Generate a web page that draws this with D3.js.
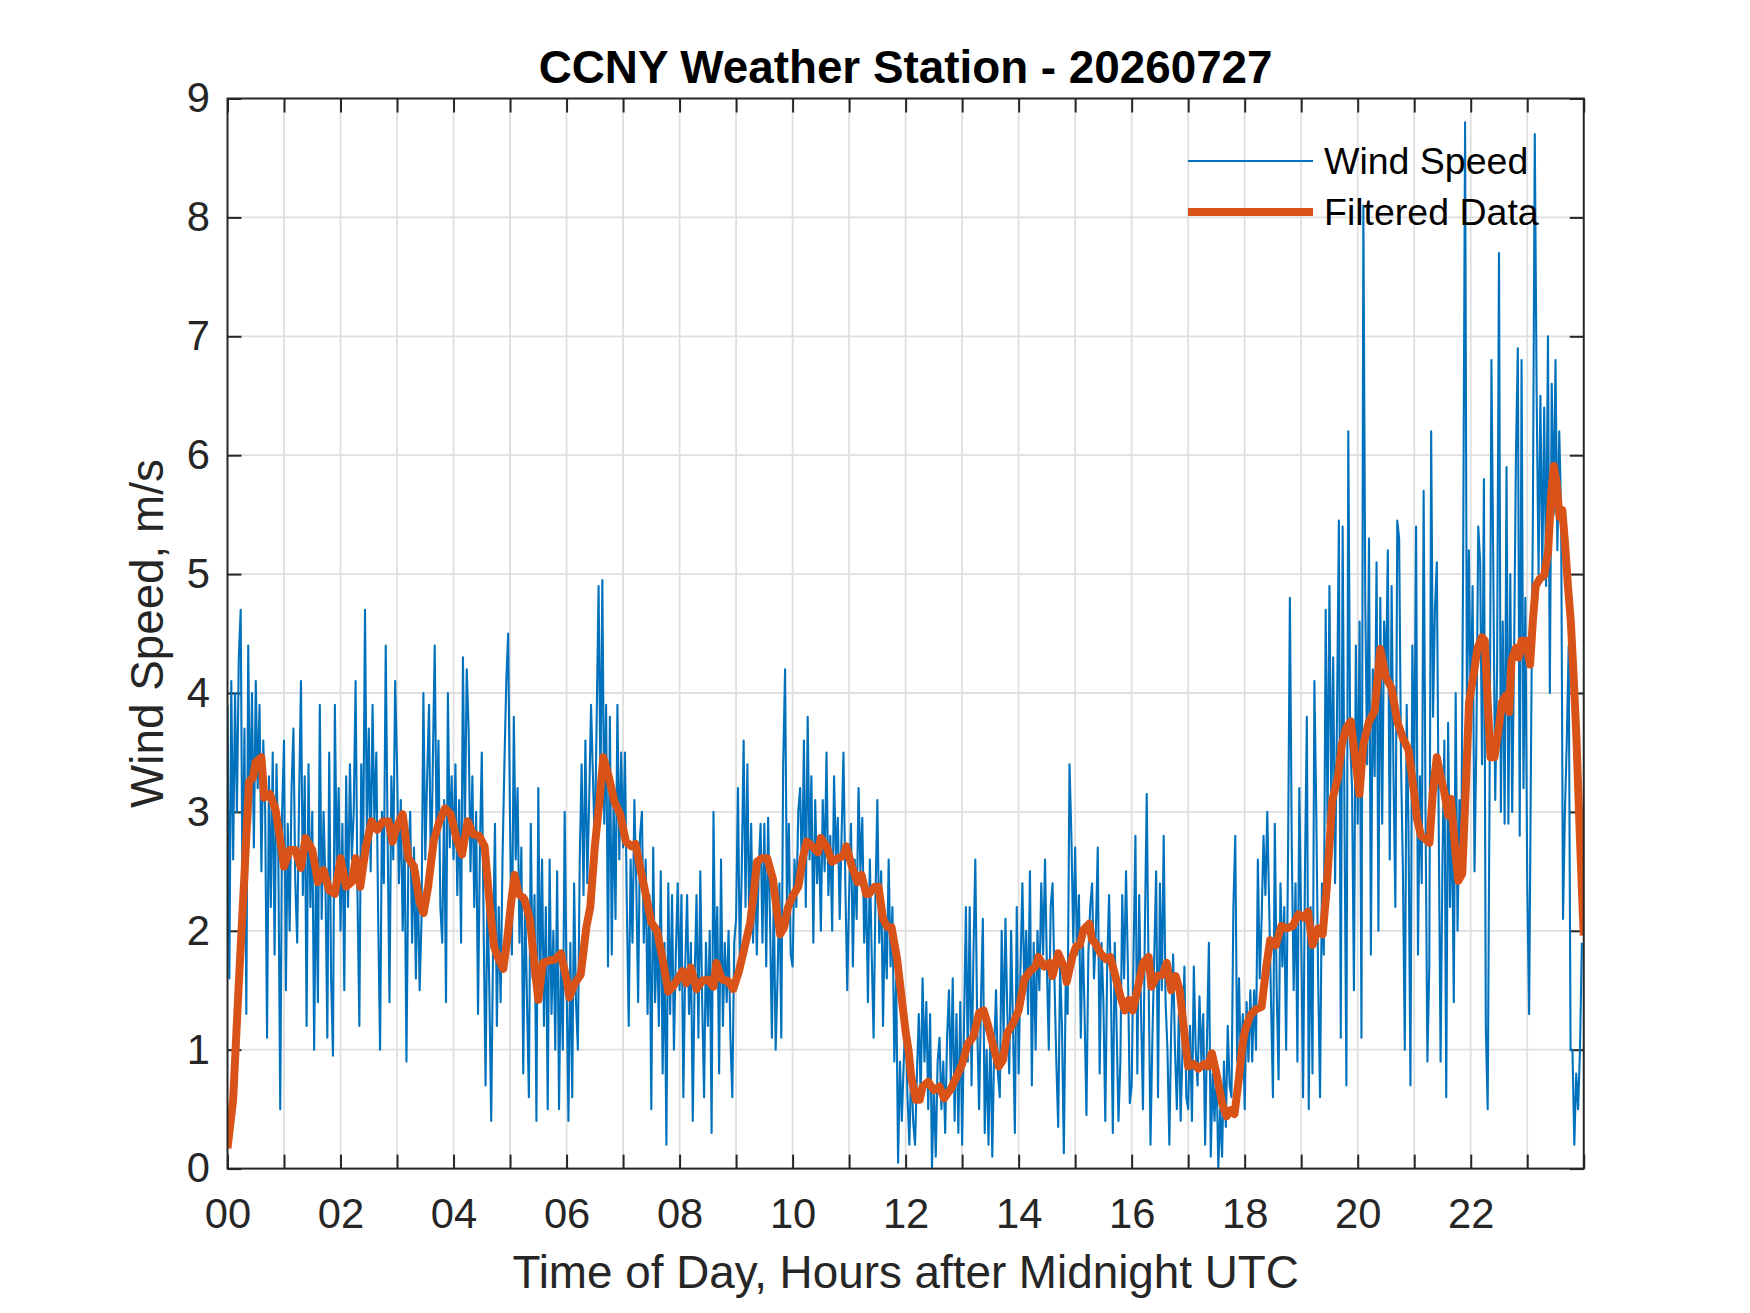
<!DOCTYPE html>
<html lang="en">
<head>
  <meta charset="UTF-8">
  <title>CCNY Weather Station - 20260727</title>
  <style>
body {
  margin: 0;
  background: #ffffff;
}
svg {
  display: block;
  font-family: "Liberation Sans", Arial, Helvetica, sans-serif;
}
  </style>
</head>
<body>
  <div id="chart"></div>
  <script src="https://d3js.org/d3.v7.min.js"></script>
  <script>
// raw wind speed, m/s, one reading every 2 minutes (30 per row = 1 hour)
const sampleMinutes = 2;
const windSpeed = [
  3.9,1.6,4.1,2.6,4.0,3.0,4.3,4.7,2.2,3.7,1.3,4.4,2.9,4.0,2.7,4.1,3.2,3.9,2.5,3.6,3.0,1.1,3.3,2.2,3.5,1.8,3.4,2.6,0.5,3.0,
  3.6,1.5,2.9,2.0,3.2,3.7,2.4,1.9,3.1,4.1,2.3,3.3,1.2,3.4,2.2,3.0,1.0,2.6,1.4,3.9,2.1,3.0,2.4,1.1,3.5,1.6,0.95,3.9,2.5,3.2,
  2.0,2.9,1.5,3.3,2.2,3.4,2.6,3.0,4.1,2.3,1.2,3.4,2.6,4.7,2.8,3.7,2.5,3.9,2.9,3.5,2.1,1.0,3.0,2.4,4.4,2.8,1.4,3.3,2.6,4.1,
  3.4,2.4,3.1,2.0,2.8,0.9,2.6,3.0,1.9,2.7,1.6,2.5,1.5,2.1,4.0,2.6,3.3,3.9,2.4,3.4,4.4,2.8,3.6,2.2,1.9,3.1,1.4,4.0,2.7,3.3,
  2.6,3.4,2.3,3.1,1.9,4.3,2.8,4.2,3.7,2.5,3.3,2.2,3.0,1.3,2.7,3.5,2.0,0.7,2.4,1.5,0.4,1.9,2.9,1.2,2.2,1.4,2.6,3.4,4.1,4.5,
  2.9,1.8,3.8,2.6,3.2,1.9,2.7,0.8,2.3,1.4,0.6,2.9,1.6,2.3,0.4,3.2,1.5,2.6,1.2,2.2,0.5,2.6,1.3,2.0,1.0,2.5,0.5,1.8,1.0,3.0,
  1.6,0.4,1.9,0.6,2.4,1.4,1.0,2.6,3.4,2.3,3.6,2.4,3.1,3.9,3.3,2.7,3.8,4.9,3.2,4.95,2.9,3.9,1.7,3.8,1.8,3.1,2.1,3.9,2.6,3.5,
  2.7,3.5,2.2,1.2,2.6,1.9,3.1,2.4,1.4,2.8,3.0,1.9,2.6,1.3,2.3,0.5,2.7,1.4,2.0,1.2,2.5,0.8,1.9,0.2,2.4,1.3,2.3,1.0,1.8,2.4,
  1.5,2.3,0.6,1.7,2.3,1.3,1.9,0.4,1.6,2.3,1.1,2.5,1.4,0.6,1.9,1.2,2.0,0.3,3.0,1.6,2.2,0.8,2.6,1.2,1.9,1.4,2.0,1.1,0.6,1.9,
  2.1,3.2,1.7,2.5,3.6,2.2,3.4,2.0,2.9,1.9,2.6,1.8,2.5,2.9,1.9,2.9,1.7,2.95,2.1,1.1,2.3,1.0,1.6,2.4,1.1,3.4,4.2,2.2,2.9,1.8,
  1.7,2.6,2.2,3.0,3.2,2.4,3.6,2.2,3.8,2.6,3.3,1.9,3.1,2.4,2.8,2.0,3.1,2.5,3.5,2.3,2.8,2.0,3.3,2.6,2.95,2.1,2.8,3.5,2.4,1.5,
  2.3,2.9,1.7,2.6,2.1,3.2,2.5,2.95,1.9,2.4,1.4,2.6,1.8,1.1,2.3,3.1,1.9,2.5,1.2,2.1,1.6,2.6,1.7,2.2,0.9,1.6,0.05,0.9,0.4,0.9,
  1.3,0.6,0.2,0.9,0.4,0.2,0.8,1.3,0.6,1.6,0.9,1.4,0.5,1.3,0.0,0.7,0.1,0.9,1.1,0.5,0.9,0.3,1.1,1.5,0.7,1.6,0.4,1.3,0.3,1.4,
  0.2,1.2,2.2,0.9,2.2,0.7,1.8,2.6,1.2,0.5,1.4,2.1,0.3,1.0,0.2,1.2,0.1,1.0,1.5,0.8,0.6,2.0,1.1,2.1,1.3,0.8,2.0,1.2,0.3,2.2,
  0.8,1.7,2.4,1.5,2.0,1.3,2.5,0.7,1.9,1.0,2.0,1.5,2.4,1.8,2.6,1.7,1.0,2.2,2.4,1.6,0.9,0.35,1.7,1.2,0.13,1.6,1.3,3.4,2.8,1.9,
  2.7,1.8,2.3,1.1,2.0,1.3,0.45,1.8,2.2,2.4,1.6,2.0,2.7,0.8,1.9,1.4,0.4,1.7,2.3,1.5,0.3,1.9,1.2,0.4,0.9,2.3,1.6,2.5,1.7,0.55,
  0.7,1.8,2.8,0.8,2.3,1.3,0.5,2.0,3.15,1.6,0.2,1.1,1.8,2.5,0.6,2.4,1.5,2.8,1.4,1.0,0.2,1.2,1.8,1.0,0.5,1.3,0.4,1.0,1.7,0.6,
  0.5,1.2,0.4,1.7,1.0,0.7,1.45,0.9,1.3,0.2,1.1,1.9,0.1,0.8,0.4,0.9,0.0,0.5,0.1,0.9,0.35,1.2,0.7,0.6,2.2,2.8,0.9,1.6,0.8,1.3,
  0.5,1.4,0.9,1.5,0.9,1.5,1.0,2.6,1.6,2.1,2.8,2.3,3.0,2.2,1.4,0.6,2.9,1.5,0.75,2.4,1.7,2.2,1.0,2.6,4.8,2.7,1.5,2.4,0.9,3.2,
  2.0,0.6,2.5,3.8,0.5,2.2,0.8,4.1,3.0,1.6,0.6,2.4,1.8,4.7,2.9,4.9,3.0,4.3,2.4,3.8,5.45,1.1,5.4,2.9,0.7,6.2,3.6,3.2,1.5,4.4,
  2.9,4.6,1.1,8.1,4.8,3.4,5.3,1.8,4.2,3.3,5.1,2.0,4.8,2.9,4.6,4.1,5.2,2.6,4.9,3.3,2.2,5.45,5.3,3.4,2.5,1.0,3.9,2.8,0.7,4.4,
  3.2,5.4,1.8,3.3,2.4,5.7,3.0,0.9,1.7,6.2,3.8,4.7,5.1,2.9,0.9,2.6,3.6,0.6,3.75,2.2,3.1,1.4,4.0,2.0,3.1,2.65,5.2,8.8,3.75,5.2,
  3.8,4.9,2.5,3.6,5.4,5.1,3.4,5.8,1.2,0.5,3.2,6.8,5.0,3.1,4.2,7.7,3.0,4.6,2.9,5.9,2.9,5.0,3.0,4.3,6.0,6.9,2.8,6.8,3.2,4.8,
  2.4,1.3,3.5,5.5,8.7,6.5,5.0,6.5,5.0,6.4,4.9,7.0,4.0,6.6,5.5,6.8,5.2,6.2,5.5,2.1,3.0,3.6,4.4,1.0,1.0,0.2,0.8,0.5,1.0,1.9
];

// filtered data, read as (hour, m/s) pairs
const filteredHours = [
  0,0.1,0.2,0.3,0.38,0.45,0.5,0.6,0.65,0.75,0.85,0.95,1.0,1.1,1.2,1.3,1.38,1.5,1.6,1.7,1.8,1.9,
  2.0,2.1,2.2,2.27,2.35,2.45,2.55,2.65,2.75,2.85,2.92,3.0,3.1,3.2,3.3,3.4,3.47,3.55,3.65,3.75,3.85,3.95,
  4.05,4.15,4.25,4.35,4.45,4.55,4.65,4.72,4.8,4.88,4.95,5.02,5.08,5.15,5.25,5.35,5.45,5.5,5.58,5.7,5.8,5.9,
  6.0,6.05,6.15,6.25,6.35,6.42,6.5,6.58,6.65,6.75,6.85,6.95,7.05,7.15,7.22,7.3,7.4,7.5,7.6,7.7,7.8,7.88,7.95,
  8.05,8.12,8.2,8.3,8.4,8.5,8.6,8.65,8.75,8.85,8.95,9.05,9.15,9.25,9.3,9.37,9.45,9.55,9.65,9.72,9.78,9.85,9.92,
  10.0,10.1,10.18,10.25,10.35,10.45,10.5,10.6,10.7,10.8,10.9,10.95,11.05,11.15,11.22,11.3,11.35,11.45,11.52,11.6,11.68,11.75,11.85,
  12.0,12.05,12.1,12.18,12.25,12.3,12.4,12.5,12.6,12.68,12.8,12.9,13.0,13.1,13.2,13.3,13.38,13.45,13.55,13.65,13.72,13.8,13.9,
  14.0,14.1,14.2,14.3,14.35,14.45,14.55,14.6,14.7,14.8,14.85,14.95,15.02,15.08,15.15,15.25,15.3,15.35,15.45,15.55,15.62,15.7,15.8,15.88,15.95,
  16.02,16.1,16.2,16.3,16.35,16.45,16.55,16.62,16.7,16.78,16.85,16.92,17.0,17.1,17.18,17.28,17.35,17.42,17.5,17.6,17.68,17.75,17.82,17.9,17.95,
  18.0,18.1,18.2,18.3,18.38,18.45,18.55,18.65,18.75,18.85,18.95,19.05,19.12,19.2,19.3,19.38,19.45,19.55,19.65,19.72,19.8,19.88,19.95,
  20.03,20.1,20.2,20.3,20.4,20.5,20.6,20.7,20.8,20.9,21.0,21.05,21.12,21.2,21.27,21.33,21.4,21.47,21.53,21.6,21.65,21.72,21.78,21.85,21.92,21.97,
  22.05,22.12,22.2,22.25,22.3,22.35,22.42,22.5,22.55,22.62,22.68,22.72,22.8,22.85,22.9,22.97,
  23.05,23.1,23.15,23.22,23.3,23.37,23.42,23.47,23.52,23.57,23.62,23.67,23.72,23.77,23.82,23.87,23.92,23.97,24.0
];
const filteredSpeed = [
  0.17,0.58,1.56,2.47,3.25,3.29,3.42,3.46,3.12,3.15,3.02,2.71,2.54,2.68,2.68,2.53,2.78,2.68,2.41,2.51,2.34,2.31,
  2.61,2.37,2.41,2.61,2.37,2.71,2.92,2.85,2.92,2.92,2.75,2.88,2.98,2.61,2.54,2.24,2.15,2.37,2.76,2.92,3.03,2.98,
  2.78,2.64,2.92,2.81,2.80,2.71,2.17,1.86,1.76,1.68,1.93,2.24,2.47,2.31,2.27,2.10,1.63,1.42,1.73,1.75,1.76,1.81,
  1.59,1.44,1.56,1.63,2.03,2.20,2.71,3.08,3.46,3.29,3.08,2.98,2.75,2.71,2.73,2.54,2.31,2.07,2.00,1.76,1.49,1.53,1.58,
  1.66,1.56,1.69,1.51,1.58,1.59,1.53,1.73,1.59,1.58,1.51,1.66,1.86,2.07,2.27,2.58,2.61,2.61,2.44,2.17,1.97,2.03,2.20,
  2.29,2.37,2.61,2.75,2.71,2.66,2.78,2.71,2.58,2.61,2.63,2.71,2.54,2.41,2.47,2.31,2.31,2.37,2.37,2.10,2.03,2.03,1.76,
  1.15,1.00,0.77,0.58,0.58,0.69,0.73,0.66,0.69,0.59,0.67,0.77,0.88,1.05,1.11,1.31,1.33,1.22,1.03,0.86,0.91,1.14,1.22,
  1.33,1.59,1.66,1.70,1.78,1.70,1.73,1.62,1.81,1.70,1.57,1.78,1.87,1.88,2.01,2.06,1.92,1.90,1.81,1.76,1.78,1.64,1.45,1.33,1.42,
  1.33,1.50,1.73,1.78,1.53,1.62,1.63,1.73,1.50,1.62,1.50,1.19,0.86,0.88,0.84,0.88,0.86,0.97,0.80,0.55,0.44,0.49,0.46,0.77,1.00,
  1.15,1.29,1.34,1.36,1.69,1.92,1.88,2.04,2.02,2.04,2.14,2.11,2.16,1.88,2.02,1.97,2.35,3.10,3.29,3.57,3.71,3.76,3.47,
  3.15,3.57,3.76,3.85,4.37,4.13,4.04,3.76,3.62,3.52,3.15,2.94,2.80,2.77,2.74,3.17,3.46,3.29,3.17,2.97,3.11,2.71,2.42,2.48,3.29,3.92,
  4.15,4.38,4.47,4.44,3.92,3.46,3.46,3.72,3.92,3.98,3.84,4.27,4.38,4.30,4.44,4.44,
  4.24,4.61,4.90,4.96,4.99,5.19,5.65,5.91,5.77,5.48,5.54,5.25,4.90,4.61,4.15,3.63,2.94,2.31,1.96
];

const xTickHours = d3.range(0, 25);
const xLabelHours = [0, 2, 4, 6, 8, 10, 12, 14, 16, 18, 20, 22];
const yTicks = [0, 1, 2, 3, 4, 5, 6, 7, 8, 9];
const seriesNames = ["Wind Speed", "Filtered Data"];

const titleText = "CCNY Weather Station - 20260727";
const xLabelText = "Time of Day, Hours after Midnight UTC";
const yLabelText = "Wind Speed, m/s";

const width = 1750;
const height = 1313;
const margin = { left: 227.5, right: 166.25, top: 98.5, bottom: 144.4 };

const blue = "#0072bd";
const orange = "#d95319";
const axisColor = "#262626";
const gridColor = "#dfdfdf";

const x = d3.scaleLinear()
  .domain([0, 24])
  .range([margin.left, width - margin.right]);

const y = d3.scaleLinear()
  .domain([0, 9])
  .range([height - margin.bottom, margin.top]);

const svg = d3.select("#chart").append("svg")
  .attr("width", width)
  .attr("height", height);

svg.append("rect")
  .attr("width", width)
  .attr("height", height)
  .attr("fill", "#ffffff");

svg.append("defs").append("clipPath")
  .attr("id", "plotClip")
  .append("rect")
  .attr("x", x(0))
  .attr("y", y(9))
  .attr("width", x(24) - x(0))
  .attr("height", y(0) - y(9));

// grid lines
const grid = svg.append("g");
grid.selectAll(".vgrid")
  .data(xTickHours.filter(h => h > 0 && h < 24))
  .join("line")
  .attr("x1", d => x(d)).attr("x2", d => x(d))
  .attr("y1", y(0)).attr("y2", y(9))
  .attr("stroke", gridColor)
  .attr("stroke-width", 1.8);
grid.selectAll(".hgrid")
  .data(yTicks.filter(v => v > 0 && v < 9))
  .join("line")
  .attr("x1", x(0)).attr("x2", x(24))
  .attr("y1", d => y(d)).attr("y2", d => y(d))
  .attr("stroke", gridColor)
  .attr("stroke-width", 1.8);

// axes with inward ticks on all four sides
const tickLen = 14;
function styleAxis(g) {
  g.attr("font-size", null).attr("font-family", null).attr("color", axisColor);
  g.select(".domain").remove();
  g.selectAll(".tick line").attr("stroke-width", 2);
  g.selectAll(".tick text")
    .attr("font-size", 41.7)
    .attr("fill", axisColor);
}

svg.append("g")
  .attr("transform", `translate(0,${y(0)})`)
  .call(d3.axisBottom(x)
    .tickValues(xTickHours)
    .tickSizeInner(-tickLen)
    .tickSizeOuter(0)
    .tickPadding(30)
    .tickFormat(d => xLabelHours.includes(d) ? String(d).padStart(2, "0") : ""))
  .call(styleAxis);

svg.append("g")
  .attr("transform", `translate(0,${y(9)})`)
  .call(d3.axisTop(x)
    .tickValues(xTickHours)
    .tickSizeInner(-tickLen)
    .tickSizeOuter(0)
    .tickFormat(""))
  .call(styleAxis);

svg.append("g")
  .attr("transform", `translate(${x(0)},0)`)
  .call(d3.axisLeft(y)
    .tickValues(yTicks)
    .tickSizeInner(-tickLen)
    .tickSizeOuter(0)
    .tickPadding(17.5)
    .tickFormat(d3.format("d")))
  .call(styleAxis);

svg.append("g")
  .attr("transform", `translate(${x(24)},0)`)
  .call(d3.axisRight(y)
    .tickValues(yTicks)
    .tickSizeInner(-tickLen)
    .tickSizeOuter(0)
    .tickFormat(""))
  .call(styleAxis);

// data lines
const plot = svg.append("g").attr("clip-path", "url(#plotClip)");

const rawLine = d3.line()
  .x((d, i) => x(i * sampleMinutes / 60))
  .y(d => y(d));

plot.append("path")
  .datum(windSpeed)
  .attr("fill", "none")
  .attr("stroke", blue)
  .attr("stroke-width", 2.1)
  .attr("stroke-linejoin", "round")
  .attr("d", rawLine);

const filtLine = d3.line()
  .x((d, i) => x(filteredHours[i]))
  .y(d => y(d));

plot.append("path")
  .datum(filteredSpeed)
  .attr("fill", "none")
  .attr("stroke", orange)
  .attr("stroke-width", 8)
  .attr("stroke-linejoin", "round")
  .attr("d", filtLine);

// axes box
svg.append("rect")
  .attr("x", x(0))
  .attr("y", y(9))
  .attr("width", x(24) - x(0))
  .attr("height", y(0) - y(9))
  .attr("fill", "none")
  .attr("stroke", axisColor)
  .attr("stroke-width", 2);

// title and labels
svg.append("text")
  .attr("x", (x(0) + x(24)) / 2)
  .attr("y", 83)
  .attr("text-anchor", "middle")
  .attr("font-size", 45.8)
  .attr("font-weight", "bold")
  .attr("fill", "#000000")
  .text(titleText);

svg.append("text")
  .attr("x", (x(0) + x(24)) / 2)
  .attr("y", 1288)
  .attr("text-anchor", "middle")
  .attr("font-size", 45.8)
  .attr("fill", axisColor)
  .text(xLabelText);

svg.append("text")
  .attr("transform", `translate(163,${(y(0) + y(9)) / 2}) rotate(-90)`)
  .attr("text-anchor", "middle")
  .attr("font-size", 45.8)
  .attr("fill", axisColor)
  .text(yLabelText);

// legend, no box
const legendRows = [
  { name: seriesNames[0], color: blue, width: 2.1, y: 161 },
  { name: seriesNames[1], color: orange, width: 8, y: 212 }
];
const legend = svg.append("g")
  .selectAll("g")
  .data(legendRows)
  .join("g");

legend.append("line")
  .attr("x1", 1188).attr("x2", 1313)
  .attr("y1", d => d.y).attr("y2", d => d.y)
  .attr("stroke", d => d.color)
  .attr("stroke-width", d => d.width);

legend.append("text")
  .attr("x", 1324)
  .attr("y", d => d.y + 13)
  .attr("font-size", 37.5)
  .attr("fill", "#000000")
  .text(d => d.name);
  </script>
</body>
</html>
